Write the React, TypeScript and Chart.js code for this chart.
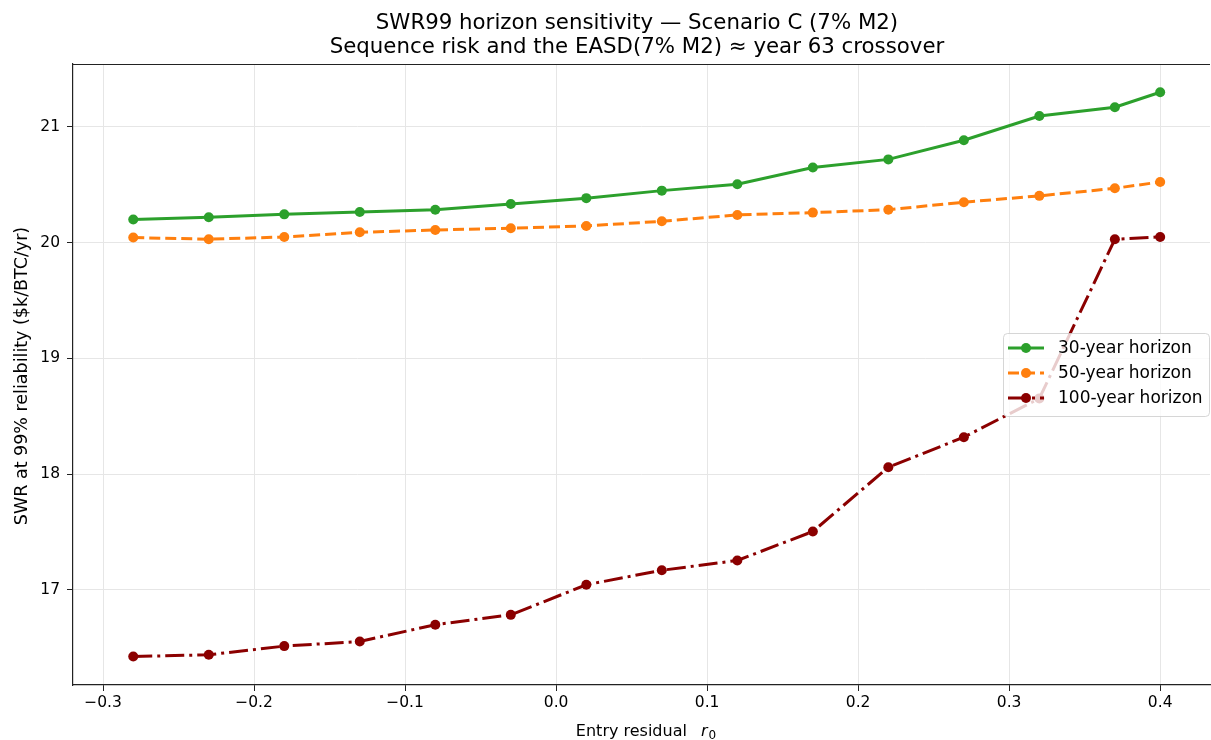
import React, { useEffect, useRef } from "react";
import { Chart, registerables } from "chart.js";

Chart.register(...registerables);

const xValues = [-0.28, -0.23, -0.18, -0.13, -0.08, -0.03, 0.02, 0.07, 0.12, 0.17, 0.22, 0.27, 0.32, 0.37, 0.4];
const swr30 = [20.2, 20.22, 20.245, 20.265, 20.285, 20.335, 20.385, 20.45, 20.505, 20.65, 20.72, 20.885, 21.095, 21.17, 21.3];
const swr50 = [20.045, 20.03, 20.05, 20.09, 20.11, 20.125, 20.145, 20.185, 20.24, 20.26, 20.285, 20.35, 20.405, 20.47, 20.525];
const swr100 = [16.425, 16.44, 16.515, 16.555, 16.7, 16.785, 17.045, 17.17, 17.255, 17.505, 18.06, 18.32, 18.655, 20.03, 20.05];
const xTicks = [-0.3, -0.2, -0.1, 0.0, 0.1, 0.2, 0.3, 0.4];
const yTicks = [17, 18, 19, 20, 21];
const seriesLabels = ["30-year horizon", "50-year horizon", "100-year horizon"];
const titleLines = ["SWR99 horizon sensitivity \u2014 Scenario C (7% M2)", "Sequence risk and the EASD(7% M2) \u2248 year 63 crossover"];
const xTitle = "Entry residual";
const yTitle = "SWR at 99% reliability ($k/BTC/yr)";

const FONT = "'DejaVu Sans', 'Noto Sans', sans-serif";
const CANVAS_W = 1215;

export default function App() {
  const ref = useRef<HTMLCanvasElement | null>(null);

  useEffect(() => {
    const canvas = ref.current;
    if (!canvas) return;
    const toPts = (ys: number[]) => xValues.map((x, i) => ({ x, y: ys[i] }));

    const decor = {
      id: "decor",
      afterDraw(chart: any) {
        const ctx = chart.ctx;
        const a = chart.chartArea;
        ctx.save();
        // top spine
        ctx.strokeStyle = "#222";
        ctx.lineWidth = 1.2;
        ctx.beginPath();
        ctx.moveTo(a.left, a.top + 0.5);
        ctx.lineTo(a.right, a.top + 0.5);
        ctx.stroke();

        // title
        ctx.fillStyle = "#000";
        ctx.font = `21.3px ${FONT}`;
        ctx.textAlign = "center";
        ctx.textBaseline = "middle";
        const cx = 637;
        ctx.fillText(titleLines[0], cx, 23);
        ctx.fillText(titleLines[1], cx, 47);

        // x title with italic r and subscript 0
        ctx.textBaseline = "alphabetic";
        ctx.textAlign = "left";
        ctx.font = `16px ${FONT}`;
        const w1 = ctx.measureText(xTitle).width;
        const gap = 14;
        ctx.font = `italic 16px ${FONT}`;
        const w2 = ctx.measureText("r").width;
        ctx.font = `12px ${FONT}`;
        const w3 = ctx.measureText("0").width;
        const total = w1 + gap + w2 + 1 + w3;
        let sx = 646 - total / 2;
        const by = 736;
        ctx.font = `16px ${FONT}`;
        ctx.fillText(xTitle, sx, by);
        sx += w1 + gap;
        ctx.font = `italic 16px ${FONT}`;
        ctx.fillText("r", sx, by);
        sx += w2 + 1;
        ctx.font = `12px ${FONT}`;
        ctx.fillText("0", sx, by + 3);

        // y title
        ctx.save();
        ctx.translate(22, 376);
        ctx.rotate(-Math.PI / 2);
        ctx.font = `17.5px ${FONT}`;
        ctx.textAlign = "center";
        ctx.textBaseline = "middle";
        ctx.fillText(yTitle, 0, 0);
        ctx.restore();

        // legend
        const lx = 1003, ly = 333, lw = 206, lh = 83;
        ctx.fillStyle = "rgba(255,255,255,0.8)";
        ctx.strokeStyle = "rgba(204,204,204,0.8)";
        ctx.lineWidth = 1;
        ctx.beginPath();
        (ctx as any).roundRect(lx + 0.5, ly + 0.5, lw, lh, 4);
        ctx.fill();
        ctx.stroke();
        chart.data.datasets.forEach((ds: any, i: number) => {
          const yy = 348 + i * 25;
          ctx.strokeStyle = ds.borderColor;
          ctx.lineWidth = 3;
          ctx.setLineDash(ds.borderDash || []);
          ctx.beginPath();
          ctx.moveTo(1008, yy);
          ctx.lineTo(1044, yy);
          ctx.stroke();
          ctx.setLineDash([]);
          ctx.fillStyle = ds.borderColor;
          ctx.beginPath();
          ctx.arc(1026, yy, 5, 0, Math.PI * 2);
          ctx.fill();
          ctx.fillStyle = "#000";
          ctx.font = `17px ${FONT}`;
          ctx.textAlign = "left";
          ctx.textBaseline = "middle";
          ctx.fillText(ds.label, 1058, yy + 1);
        });
        ctx.restore();
      },
    };

    const chart = new Chart(canvas, {
      type: "line",
      data: {
        datasets: [
          {
            label: seriesLabels[0],
            data: toPts(swr30),
            borderColor: "#2ca02c",
            backgroundColor: "#2ca02c",
            borderWidth: 3,
            pointRadius: 5,
            pointBorderWidth: 0,
            tension: 0,
          },
          {
            label: seriesLabels[1],
            data: toPts(swr50),
            borderColor: "#ff7f0e",
            backgroundColor: "#ff7f0e",
            borderWidth: 3,
            borderDash: [11, 5],
            pointRadius: 5,
            pointBorderWidth: 0,
            tension: 0,
          },
          {
            label: seriesLabels[2],
            data: toPts(swr100),
            borderColor: "#8b0000",
            backgroundColor: "#8b0000",
            borderWidth: 3,
            borderDash: [19, 5, 3, 5],
            pointRadius: 5,
            pointBorderWidth: 0,
            tension: 0,
          },
        ],
      },
      options: {
        animation: false,
        responsive: false,
        maintainAspectRatio: false,
        layout: { padding: { top: 64, left: 0, right: 1, bottom: 0 } },
        plugins: {
          legend: { display: false },
          title: { display: false },
          tooltip: { enabled: false },
        },
        scales: {
          x: {
            type: "linear",
            min: -0.3199,
            max: 0.433,
            afterFit: (s: any) => { s.height = 55; s.paddingLeft = 0; s.paddingRight = 0; },
            afterBuildTicks: (s: any) => { s.ticks = xTicks.map((v) => ({ value: v })); },
            ticks: {
              color: "#000",
              font: { family: FONT, size: 15.5 },
              padding: 3,
              maxRotation: 0,
              autoSkip: false,
              callback: (v: any) => Number(v).toFixed(1).replace("-", "\u2212"),
            },
            grid: { color: "#e6e6e6", lineWidth: 1, tickLength: 6, tickColor: "#222", drawTicks: true },
            border: { display: true, color: "#222", width: 1.2 },
          },
          y: {
            type: "linear",
            min: 16.179,
            max: 21.544,
            afterFit: (s: any) => { s.width = 73; s.paddingTop = 0; s.paddingBottom = 0; },
            afterBuildTicks: (s: any) => { s.ticks = yTicks.map((v) => ({ value: v })); },
            ticks: {
              color: "#000",
              font: { family: FONT, size: 15.5 },
              padding: 7,
              autoSkip: false,
              callback: (v: any) => String(v),
            },
            grid: { color: "#e6e6e6", lineWidth: 1, tickLength: 6, tickColor: "#222", drawTicks: true },
            border: { display: true, color: "#222", width: 1.2 },
          },
        },
      },
      plugins: [decor],
    });
    return () => chart.destroy();
  }, []);

  return (
    <div style={{ position: "fixed", left: 0, top: 0, width: 1211, height: 740, background: "#fff", overflow: "hidden" }}>
      <canvas ref={ref} width={CANVAS_W} height={740} style={{ width: CANVAS_W, height: 740, display: "block" }} />
    </div>
  );
}
